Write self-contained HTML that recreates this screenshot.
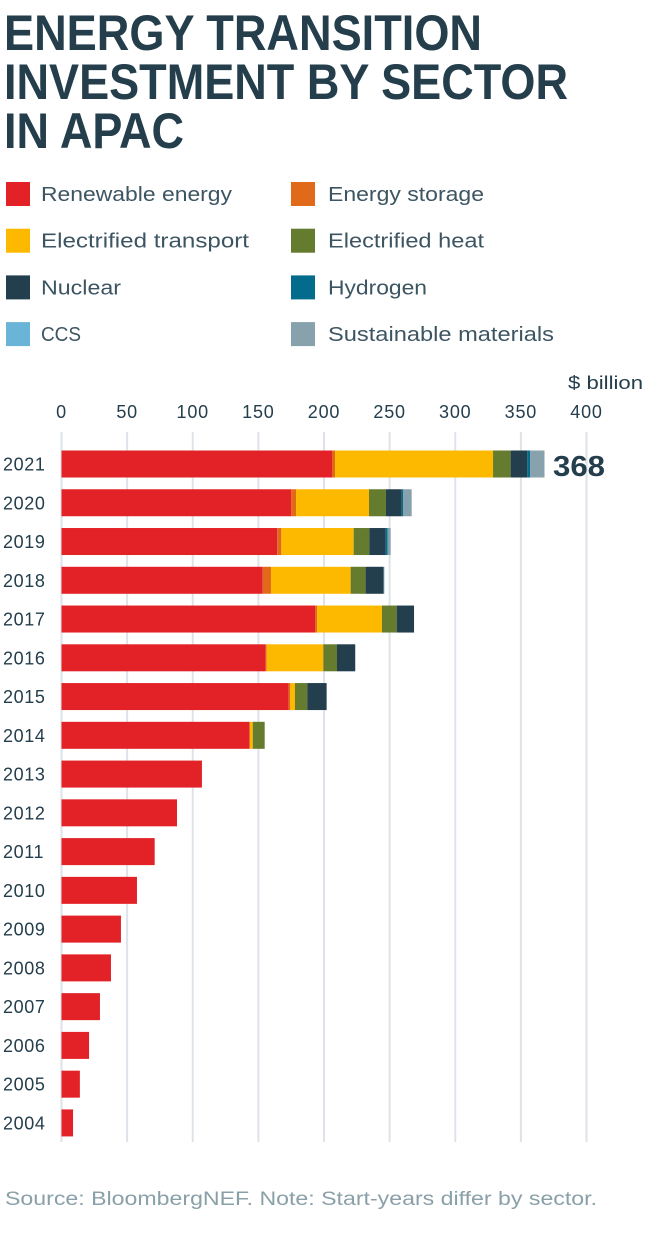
<!DOCTYPE html>
<html><head><meta charset="utf-8">
<style>
html,body{margin:0;padding:0;background:#fff;}
svg{display:block;font-family:"Liberation Sans",sans-serif;}
</style></head>
<body>
<svg id="chart" width="650" height="1240" viewBox="0 0 650 1240" xmlns="http://www.w3.org/2000/svg">
<g fill="#243e4c" font-weight="bold" font-size="50">
<text x="4" y="50" textLength="478" lengthAdjust="spacingAndGlyphs">ENERGY TRANSITION</text>
<text x="4" y="99" textLength="564" lengthAdjust="spacingAndGlyphs">INVESTMENT BY SECTOR</text>
<text x="4" y="148" textLength="180" lengthAdjust="spacingAndGlyphs">IN APAC</text>
</g>
<g id="legend" font-size="20" fill="#3d5562"></g>
<g id="grid"></g>
<g id="xaxis" font-size="18" fill="#243e4c" letter-spacing="0.8"></g>
<text x="568" y="389" textLength="75" lengthAdjust="spacingAndGlyphs" font-size="18" fill="#243e4c">$ billion</text>
<g id="bars"></g>
<g id="ylabels" font-size="18" fill="#243e4c" letter-spacing="0.6"></g>
<text x="553" y="476" font-size="29" font-weight="bold" fill="#243e4c" textLength="52" lengthAdjust="spacingAndGlyphs">368</text>
<text x="5" y="1205" font-size="19" fill="#8aa0a8" textLength="592" lengthAdjust="spacingAndGlyphs">Source: BloombergNEF. Note: Start-years differ by sector.</text>
</svg>
<script>
const years = [2021,2020,2019,2018,2017,2016,2015,2014,2013,2012,2011,2010,2009,2008,2007,2006,2005,2004];
const seriesNames = ["Renewable energy","Energy storage","Electrified transport","Electrified heat","Nuclear","Hydrogen","CCS","Sustainable materials"];
const renewable = [206.1,174.9,164.4,153.3,193.4,155.6,173.1,143.4,107,88,71,57.5,45.3,37.7,29.3,21,14,8.8];
const storage =   [2.3,3.8,3.1,6.3,1.3,0.7,1.0,0,0,0,0,0,0,0,0,0,0,0];
const transport = [120.4,55.6,55.1,60.7,49.5,43.2,3.8,2.3,0,0,0,0,0,0,0,0,0,0];
const heat =      [13.4,12.9,11.9,11.4,11.2,10.4,9.4,9.1,0,0,0,0,0,0,0,0,0,0];
const nuclear =   [12.7,12.0,12.5,13.8,13.2,13.9,14.7,0,0,0,0,0,0,0,0,0,0,0];
const hydrogen =  [2.1,1.2,1.5,0,0,0,0,0,0,0,0,0,0,0,0,0,0,0];
const ccs =       [0,0,0,0.5,0,0,0,0,0,0,0,0,0,0,0,0,0,0];
const materials = [11.0,6.4,2.3,0,0,0,0,0,0,0,0,0,0,0,0,0,0,0];
const ticks = [0,50,100,150,200,250,300,350,400];
const colors = ["#e32227","#e06a1a","#fdb900","#657b2d","#233e4c","#036b8c","#6ab4d8","#87a2ac"];
const legendWidths = [191,156,208,156,80,99,40,226];
const series = [renewable,storage,transport,heat,nuclear,hydrogen,ccs,materials];

const NS="http://www.w3.org/2000/svg";
const x0=61.5, ppu=1.3125, rowTop=450.5, rowStep=38.76, barH=27;
const xs=v=>x0+v*ppu;
const yRow=i=>rowTop+i*rowStep;
function mk(tag,attrs,parent){const e=document.createElementNS(NS,tag);for(const k in attrs)e.setAttribute(k,attrs[k]);parent.appendChild(e);return e;}

const legend=document.getElementById('legend');
seriesNames.forEach((n,i)=>{
  const col=i%2,row=Math.floor(i/2);
  const lx=col?291:6, ly=182+row*46.7;
  const g=mk('g',{},legend);
  
  
  mk('rect',{x:lx,y:ly,width:24,height:24,fill:colors[i]},g);
  const t=mk('text',{x:col?328:41,y:ly+19,textLength:legendWidths[i],lengthAdjust:"spacingAndGlyphs"},g);t.textContent=n;
});

const grid=document.getElementById('grid'), xaxis=document.getElementById('xaxis');
ticks.forEach(t=>{
  const l=mk('line',{x1:xs(t),x2:xs(t),y1:432,y2:1142,stroke:"#dde3e8","stroke-width":2},grid);
  
  
  const tx=mk('text',{x:xs(t),y:418,"text-anchor":"middle"},xaxis);
  
  
  tx.textContent=t;
});

const bars=document.getElementById('bars'), yl=document.getElementById('ylabels');
years.forEach((yr,i)=>{
  let acc=0;
  series.forEach((s,k)=>{
    const v=s[i]; if(!v)return;
    const r=mk('rect',{x:xs(acc),y:yRow(i),width:v*ppu,height:barH,fill:colors[k]},bars);
    
    
    acc+=v;
  });
  const t=mk('text',{x:3,y:yRow(i)+barH/2+6.5},yl);
  
  
  t.textContent=yr;
});
</script>
</body></html>
